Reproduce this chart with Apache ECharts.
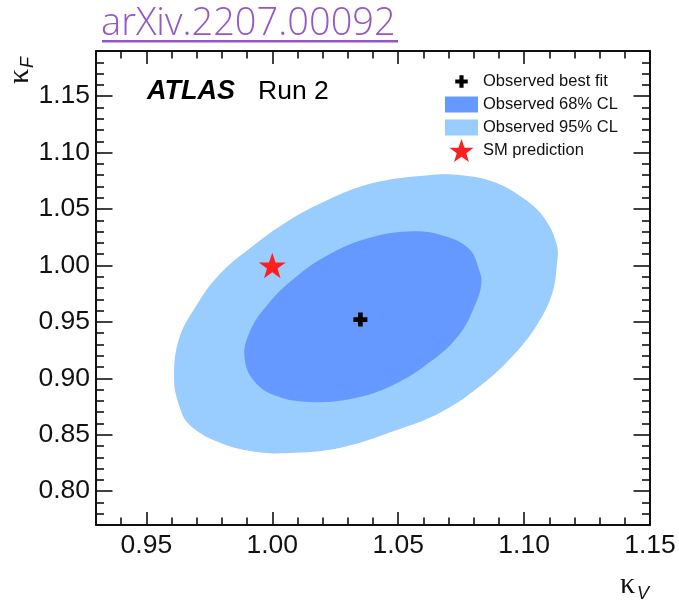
<!DOCTYPE html>
<html>
<head>
<meta charset="utf-8">
<script src="https://cdn.jsdelivr.net/npm/echarts@6.0.0/dist/echarts.min.js"></script>
<style>
  html, body { margin: 0; padding: 0; background: #ffffff; }
  #chart { width: 679px; height: 603px; }
</style>
</head>
<body>
<div id="chart"></div>
<script>
// Axis ranges and labelled ticks
const kVRange = [0.93, 1.15];
const kFRange = [0.77, 1.19];
const kVTicks = [0.95, 1.00, 1.05, 1.10, 1.15];
const kFTicks = [0.80, 0.85, 0.90, 0.95, 1.00, 1.05, 1.10, 1.15];

// Legend entries
const seriesNames = ['Observed best fit', 'Observed 68% CL', 'Observed 95% CL', 'SM prediction'];

// Points (kappa_V, kappa_F)
const bestFit = [[1.035, 0.952]];
const smPrediction = [[1.000, 1.000]];

// Likelihood contours as closed loops (kappa_V, kappa_F)
const contour95 = [
  [0.961, 0.900], [0.963, 0.935], [0.970, 0.965], [0.979, 0.992], [0.991, 1.015],
  [1.006, 1.039], [1.022, 1.058], [1.040, 1.073], [1.062, 1.080], [1.075, 1.080],
  [1.088, 1.074], [1.100, 1.059], [1.108, 1.042], [1.113, 1.018], [1.113, 1.000],
  [1.111, 0.974], [1.105, 0.947], [1.096, 0.921], [1.083, 0.894], [1.067, 0.870],
  [1.048, 0.853], [1.028, 0.839], [1.009, 0.834], [0.993, 0.835], [0.978, 0.844],
  [0.967, 0.859], [0.963, 0.876]
];
const contour68 = [
  [0.989, 0.918], [0.991, 0.941], [0.998, 0.965], [1.009, 0.989], [1.022, 1.009],
  [1.038, 1.024], [1.054, 1.030], [1.067, 1.027], [1.078, 1.015], [1.082, 0.997],
  [1.083, 0.983], [1.080, 0.962], [1.074, 0.938], [1.063, 0.915], [1.048, 0.894],
  [1.032, 0.882], [1.015, 0.879], [1.002, 0.884], [0.993, 0.897]
];

const FONT = '"Liberation Sans", Arial, Helvetica, sans-serif';
const GREEK = '"Liberation Serif", "DejaVu Serif", serif';
const INK = '#111111';
const PURPLE = '#9457c8';
const plusPath = 'path://M3,0H6V3H9V6H6V9H3V6H0V3H3Z';
const starPath = 'path://M50,0L61.8,35.1L98.1,35.1L68.8,56.7L79.4,91L50,70L20.6,91L31.2,56.7L1.9,35.1L38.2,35.1Z';
// Legend icons share one 33x23 slot; bare move-to points pad the plus, the box keeps its 33:16 shape
const legendPlus = 'path://M4.5,-3.8M4.5,12.8M3,0H6V3H9V6H6V9H3V6H0V3H3Z';
const legendBox = 'path://M0,0H33V16H0Z';

function isTick(list, v) {
  return list.some(t => Math.abs(t - v) < 1e-6);
}

// Filled contour: one polygon per series, mapped through the cartesian axes
function contourRenderer(points) {
  return function (params, api) {
    if (params.dataIndex !== 0) return null;
    return {
      type: 'polygon',
      shape: { points: points.map(p => api.coord(p)), smooth: 0.4 },
      style: { fill: api.visual('color') }
    };
  };
}

// Ticks point into the frame on all four sides (negative length flips them inward)
function xAxisDef(position, showLabels) {
  return {
    type: 'value', position: position, min: kVRange[0], max: kVRange[1], splitNumber: 5,
    axisLine: { show: true, onZero: false, lineStyle: { color: INK, width: 2 } },
    axisTick: { show: true, inside: false, length: -13, lineStyle: { color: INK, width: 1.6 } },
    minorTick: { show: true, splitNumber: 5, length: -7.5, lineStyle: { color: INK, width: 1.6 } },
    splitLine: { show: false },
    axisLabel: {
      show: showLabels, margin: 7, color: INK, fontFamily: FONT, fontSize: 26.5,
      formatter: v => isTick(kVTicks, v) ? v.toFixed(2) : ''
    }
  };
}

function yAxisDef(position, showLabels) {
  return {
    type: 'value', position: position, min: kFRange[0], max: kFRange[1], splitNumber: 8,
    axisLine: { show: true, onZero: false, lineStyle: { color: INK, width: 2 } },
    axisTick: { show: true, inside: false, length: -16.5, lineStyle: { color: INK, width: 1.6 } },
    minorTick: { show: true, splitNumber: 5, length: -8, lineStyle: { color: INK, width: 1.6 } },
    splitLine: { show: false },
    axisLabel: {
      show: showLabels, margin: 6, color: INK, fontFamily: FONT, fontSize: 26.5,
      formatter: v => isTick(kFTicks, v) ? v.toFixed(2) : ''
    }
  };
}

const chart = echarts.init(document.getElementById('chart'), null, { renderer: 'canvas' });

chart.setOption({
  backgroundColor: '#ffffff',
  animation: false,
  title: {
    text: 'arXiv.2207.00092',
    left: 101, top: 5, padding: 0,
    textStyle: { color: PURPLE, fontFamily: '"Open Sans", "Noto Sans", sans-serif', fontWeight: 300, fontSize: 38 }
  },
  grid: { left: 96, right: 29, top: 51, bottom: 78, containLabel: false, outerBoundsMode: 'none' },
  xAxis: [xAxisDef('bottom', true), xAxisDef('top', false)],
  yAxis: [yAxisDef('left', true), yAxisDef('right', false)],
  legend: {
    orient: 'vertical', left: 445, top: 70, padding: 0,
    itemWidth: 33, itemHeight: 23, itemGap: 0, selectedMode: false,
    textStyle: { color: INK, fontFamily: FONT, fontSize: 16.5, lineHeight: 23 },
    data: [
      { name: seriesNames[0], icon: legendPlus, itemStyle: { color: '#000000', opacity: 1 } },
      { name: seriesNames[1], icon: legendBox },
      { name: seriesNames[2], icon: legendBox },
      { name: seriesNames[3], icon: starPath, itemStyle: { color: '#ff1f1f', opacity: 1 } }
    ]
  },
  series: [
    {
      name: seriesNames[2], type: 'custom', itemStyle: { color: '#99ccff', opacity: 1 },
      data: contour95, renderItem: contourRenderer(contour95), silent: true, z: 1
    },
    {
      name: seriesNames[1], type: 'custom', itemStyle: { color: '#6699ff', opacity: 1 },
      data: contour68, renderItem: contourRenderer(contour68), silent: true, z: 2
    },
    {
      name: seriesNames[0], type: 'scatter', symbol: plusPath, symbolSize: 14, symbolKeepAspect: true,
      itemStyle: { color: '#000000', opacity: 1 }, data: bestFit, silent: true, z: 3
    },
    {
      name: seriesNames[3], type: 'scatter', symbol: starPath, symbolSize: 27, symbolKeepAspect: true,
      itemStyle: { color: '#ff1f1f', opacity: 1 }, data: smPrediction, silent: true, z: 3
    }
  ],
  graphic: [
    // link underline
    { type: 'rect', x: 102, y: 40, shape: { width: 296, height: 2.5 }, style: { fill: PURPLE }, silent: true },
    { type: 'text', x: 147, y: 92, style: { text: 'ATLAS', fill: '#000', font: 'italic bold 27px ' + FONT, verticalAlign: 'middle' } },
    { type: 'text', x: 258, y: 92, style: { text: 'Run 2', fill: '#000', font: '26.5px ' + FONT, verticalAlign: 'middle' } },
    {
      type: 'group', x: 20, y: 84, rotation: Math.PI / 2,
      children: [
        { type: 'text', x: 0, y: 0, style: { text: 'κ', fill: INK, font: '30px ' + GREEK, verticalAlign: 'middle' } },
        { type: 'text', x: 16, y: 8, style: { text: 'F', fill: INK, font: 'italic 18px ' + FONT, verticalAlign: 'middle' } }
      ]
    },
    { type: 'text', x: 620, y: 585, style: { text: 'κ', fill: INK, font: '30px ' + GREEK, verticalAlign: 'middle' } },
    { type: 'text', x: 637, y: 594, style: { text: 'V', fill: INK, font: 'italic 18px ' + FONT, verticalAlign: 'middle' } }
  ]
});
</script>
</body>
</html>
